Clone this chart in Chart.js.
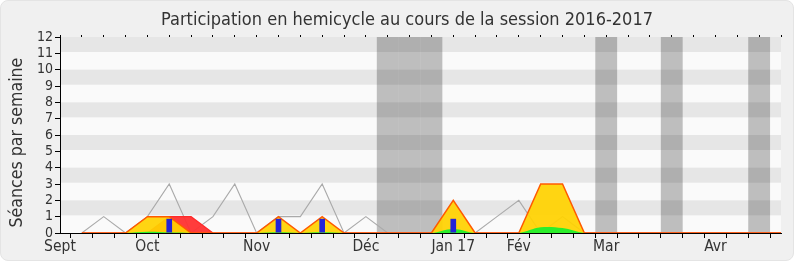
<!DOCTYPE html>
<html><head><meta charset="utf-8">
<script src="https://cdn.jsdelivr.net/npm/chart.js@4.4.1/dist/chart.umd.min.js"></script>
<style>
html,body{margin:0;padding:0;background:#fff;}
#wrap{position:relative;width:800px;height:267px;overflow:hidden;}
#panel{position:absolute;left:0;top:0;width:792px;height:259px;background:#f0f0f0;border:1px solid #e4e4e4;border-radius:8px;}
canvas{position:absolute;left:0;top:0;}
</style></head><body>
<div id="wrap"><div id="panel"></div><canvas id="c" width="800" height="267"></canvas></div>
<script>
// ---- data ----
const weekCount = 34;
const monthLabels = ["Sept","Oct","Nov","Déc","Jan 17","Fév","Mar","Avr"];
const monthWeeks  = [0, 4, 9, 14, 18, 21, 25, 30];
const yTicks = [0,1,2,3,4,5,6,7,8,9,10,11,12];
const medianLine    = [null,0,1,0,1,3,0,1,3,0,1,1,3,0,1,0,0,0,0,0,1,2,0,1,0,0,0,0,0,0,0,0,0,0];
const presences     = [null,0,0,0,1,1,0,0,0,0,1,0,1,0,0,0,0,0,2,0,0,0,3,3,0,0,0,0,0,0,0,0,0,0];
const commission    = [null,0,0,0,0,1,1,0,0,0,0,0,0,0,0,0,0,0,0,0,0,0,0,0,0,0,0,0,0,0,0,0,0,0];
const participations= [null,0,0,0,0.08,0.04,0,0,0,0,0.04,0,0.04,0,0,0,0,0,0.25,0,0,0,0.35,0.3,0,0,0,0,0,0,0,0,0,0];
const questions     = [null,null,null,null,null,0.87,null,null,null,null,0.87,null,0.87,null,null,null,null,null,0.87,null,null,null,null,null,null,null,null,null,null,null,null,null,null,null];
const vacationWeeks = [15,16,17,25,28,32];
const vacationHeight = 12;

// ---- derived ----
const weekLabels = Array.from({length: weekCount}, (_, i) => {
  const j = monthWeeks.indexOf(i); return j >= 0 ? monthLabels[j] : "";
});
const vacationData = weekLabels.map((_, i) => vacationWeeks.includes(i) ? vacationHeight : null);

// font detection: prefer condensed DejaVu if installed
const probe = document.createElement('canvas').getContext('2d');
probe.font = "20px monospace"; const wMono = probe.measureText("abcdefghijklm").width;
probe.font = "20px 'DejaVu Sans Condensed', monospace"; const wCond = probe.measureText("abcdefghijklm").width;
const hasCond = Math.abs(wMono - wCond) > 0.5;
const fam = hasCond ? "'DejaVu Sans Condensed', 'DejaVu Sans', sans-serif" : "'DejaVu Sans', sans-serif";
const fs = hasCond ? {title: 18, x: 15.5, y: 14, yTitle: 17.6} : {title: 16.2, x: 14, y: 14, yTitle: 15.5};

Chart.defaults.font.family = fam;
Chart.defaults.color = '#333';

const plotBg = {
  id: 'plotBg',
  beforeDraw(chart) {
    const {ctx, chartArea: a, scales: {y}} = chart;
    ctx.save();
    ctx.fillStyle = '#FAFAFA';
    ctx.fillRect(a.left, a.top, a.right - a.left, a.bottom - a.top);
    ctx.fillStyle = '#E6E6E6';
    for (let v = 1; v < 12; v += 2) {
      const t = y.getPixelForValue(v + 1), b = y.getPixelForValue(v + 0.08);
      ctx.fillRect(a.left, t, a.right - a.left, b - t);
    }
    ctx.restore();
  }
};

new Chart(document.getElementById('c'), {
  data: {
    labels: weekLabels,
    datasets: [
      {type:'bar', label:'Questions orales', data: questions, backgroundColor:'#2424D8', barPercentage:0.26, categoryPercentage:1, grouped:false, order:0},
      {type:'line', label:'Interventions', data: participations, borderColor:'rgba(0,0,0,0)', borderWidth:0, backgroundColor:'#2BEE2B', fill:'origin', pointRadius:0, tension:0.35, order:1},
      {type:'line', label:'Présences', data: presences, borderColor:'#FF5A00', borderWidth:1.5, backgroundColor:'rgba(255,210,0,0.93)', fill:'origin', pointRadius:0, tension:0, order:2},
      {type:'line', label:'Commission', data: commission, borderColor:'#FF2A2A', borderWidth:1.2, backgroundColor:'rgba(255,50,50,0.95)', fill:'origin', pointRadius:0, tension:0, order:3},
      {type:'line', label:'Médiane', data: medianLine, borderColor:'#AAAAAA', borderWidth:1.1, fill:false, pointRadius:0, tension:0, order:4},
      {type:'bar', label:'Vacances', data: vacationData, backgroundColor:'rgba(0,0,0,0.24)', barPercentage:1, categoryPercentage:1, grouped:false, inflateAmount:0, order:5}
    ]
  },
  options: {
    responsive: false,
    animation: false,
    layout: {padding: {left: 33, right: 19, top: 0, bottom: 12}},
    plugins: {
      legend: {display: false},
      tooltip: {enabled: false},
      title: {display: true, text: 'Participation en hemicycle au cours de la session 2016-2017',
        font: {size: fs.title, weight: 'normal'}, color: '#333', padding: {top: 10, bottom: 5.4}}
    },
    scales: {
      x: {
        type: 'category', offset: false,
        grid: {display: true, drawOnChartArea: false, drawTicks: true, tickLength: 5, color: '#000'},
        border: {display: true, color: '#000'},
        ticks: {autoSkip: false, maxRotation: 0, padding: 0, color: '#333', font: {size: fs.x}},
        afterFit(s) { s.height = 22; }
      },
      xTop: {
        type: 'category', position: 'top', offset: false,
        grid: {display: true, drawOnChartArea: false, tickLength: 2, color: '#000'},
        border: {display: false},
        ticks: {display: false},
        afterFit(s) { s.height = 0; }
      },
      y: {
        min: 0, max: 12,
        afterBuildTicks(s) { s.ticks = yTicks.map(v => ({value: v})); },
        ticks: {autoSkip: false, stepSize: 1, padding: 2, color: '#333', font: {size: fs.y}},
        grid: {drawOnChartArea: false, tickLength: 5, color: '#000'},
        border: {color: '#000'},
        title: {display: true, text: 'Séances par semaine   ', color: '#333', font: {size: fs.yTitle}, padding: {top: -26, bottom: 0}},
        afterFit(s) { s.width = 27; }
      }
    }
  },
  plugins: [plotBg]
});
</script>
</body></html>
